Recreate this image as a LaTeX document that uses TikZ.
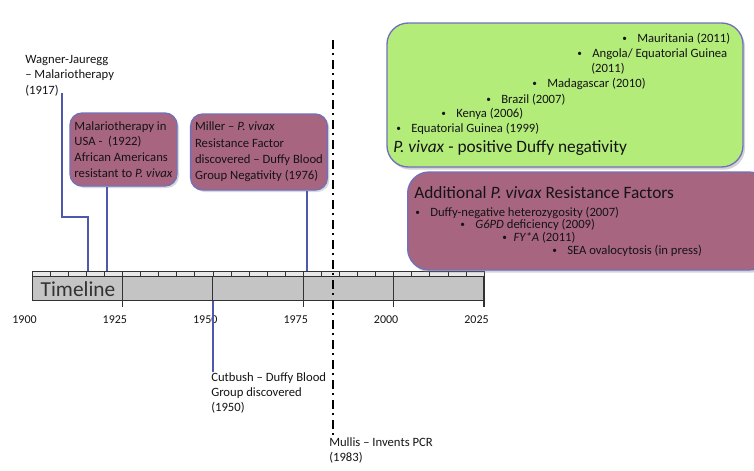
\documentclass[tikz,border=0pt]{standalone}
\usepackage{fontspec}
\setmainfont{Carlito}
\usetikzlibrary{shadows}
\tikzset{>=latex}
\definecolor{boxpink}{RGB}{168,101,128}
\definecolor{boxgreen}{RGB}{180,236,122}
\definecolor{boxline}{RGB}{112,112,188}
\definecolor{bargray}{RGB}{196,196,196}
\definecolor{stripgray}{RGB}{232,232,232}
\definecolor{barline}{RGB}{50,50,50}
\definecolor{linkblue}{RGB}{78,88,172}
\definecolor{textdark}{RGB}{20,20,20}
\newcommand{\smallbullet}{\raisebox{0.4pt}{\fontsize{7}{7}\selectfont\textbullet}}
\newcommand{\bulletitem}[1]{\makebox[11.25pt][l]{\smallbullet}#1}
\tikzset{
  eventbox/.style={draw=boxline, line width=1pt, fill=boxpink, rounded corners=9pt,
    align=left, font=\fontsize{9.5}{11.8}\selectfont, text=textdark,
    drop shadow={shadow xshift=1.5pt, shadow yshift=-1.5pt, opacity=0.3}},
  bigbox/.style={draw=boxline, line width=1pt, rounded corners=16pt,
    drop shadow={shadow xshift=1.5pt, shadow yshift=-2pt, opacity=0.35}},
  listitem/.style={anchor=base west, inner sep=0pt, text=textdark,
    font=\fontsize{9.5}{11.4}\selectfont},
  headitem/.style={anchor=base west, inner sep=0pt, text=textdark,
    font=\fontsize{13}{15}\selectfont},
  plaintext/.style={anchor=north west, inner sep=0pt, align=left, text=textdark,
    font=\fontsize{9.5}{11.6}\selectfont},
  yearlabel/.style={inner sep=0pt, text=textdark, font=\fontsize{9}{10}\selectfont},
  link/.style={linkblue, line width=1.3pt},
}
\begin{document}
\begin{tikzpicture}[x=0.75pt,y=-0.75pt]
	\useasboundingbox (0,0) rectangle (754,471);
	\clip (0,0) rectangle (754,471);

	% timeline bar
	\draw[barline, fill=stripgray] (32,271) rectangle (484,276);
	\draw[barline, fill=bargray] (32,276) rectangle (484,300.7);
	\foreach \i in {1,...,24} {
	     \draw[barline] (32+\i*18.08,271) -- (32+\i*18.08,276);
	}
	\foreach \i in {1,...,5} {
	     \draw[barline, line width=0.8pt] (32+\i*90.4,276) -- (32+\i*90.4,307);
	}
	\foreach \yr [count=\i from 0] in {1900,1925,...,2025} {
	     \node[yearlabel] (y\yr) at (24.5+\i*90.4,320) {\yr};
	}
	\node[text=barline, inner sep=0pt, font=\fontsize{16}{16}\selectfont] (timeline) at (78,289) {Timeline};

	\coordinate (t1917) at (88,271);
	\coordinate (t1922) at (107,271);
	\coordinate (t1950) at (213,300.7);
	\coordinate (t1976) at (307,271);
	\coordinate (pcrtop) at (333,40);
	% end of axis

	% events above and below
	\node[plaintext] (wagner) at (25,55) {Wagner-Jauregg\\ -- Malariotherapy\\ (1917)};
	\coordinate (wagnerend) at (62,93);
	\node[eventbox, minimum width=80.25pt, minimum height=54.75pt] (usa) at (123.5,149.5)
	     {Malariotherapy in\\ USA -~ (1922)\\ African Americans\\ resistant to \textit{P. vivax}};
	\node[eventbox, minimum width=100.5pt, minimum height=57pt, font=\fontsize{9.5}{12.2}\selectfont] (miller) at (259,152)
	     {Miller -- \textit{P. vivax}\\ Resistance Factor\\ discovered -- Duffy Blood\\ Group Negativity (1976)};
	\node[plaintext] (cutbush) at (211,372) {Cutbush -- Duffy Blood\\ Group discovered\\ (1950)};
	\node[plaintext] (mullis) at (329,437) {Mullis -- Invents PCR\\ (1983)};

	\draw[link] (t1917) -- ++(0,-54) -| (wagnerend);
	\draw[link] (t1922) -- (t1922 |- usa.south);
	\draw[link] (t1976) -- (t1976 |- miller.south);
	\draw[link] (t1950) -- (t1950 |- cutbush.north);
	\draw[line width=2.2pt, dash pattern=on 6.75pt off 3pt on 1.5pt off 3.75pt] (pcrtop) -- (pcrtop |- mullis.north);

	% Duffy negativity box
	\node[bigbox, fill=boxgreen, minimum width=267pt, minimum height=108pt] (duffy) at (565,95) {};
	\node[listitem] (d1) at (622,42) {\bulletitem{Mauritania (2011)}};
	\node[listitem] (d2) at (577,57) {\bulletitem{Angola/ Equatorial Guinea}};
	\node[listitem] (d2b) at (591,72) {(2011)};
	\node[listitem] (d3) at (532,87) {\bulletitem{Madagascar (2010)}};
	\node[listitem] (d4) at (486,103) {\bulletitem{Brazil (2007)}};
	\node[listitem] (d5) at (441,117) {\bulletitem{Kenya (2006)}};
	\node[listitem] (d6) at (396,132) {\bulletitem{Equatorial Guinea (1999)}};
	\node[headitem] (dhead) at (393,152.5) {\textit{P. vivax} - positive Duffy negativity};

	% resistance factors box
	\node[bigbox, fill=boxpink, minimum width=272pt, minimum height=73.5pt] (factors) at (589,221) {};
	\node[headitem] (fhead) at (414,198.5) {Additional \textit{P. vivax} Resistance Factors};
	\node[listitem] (f1) at (415,216) {\bulletitem{Duffy-negative heterozygosity (2007)}};
	\node[listitem] (f2) at (460,228) {\bulletitem{\textit{G6PD} deficiency (2009)}};
	\node[listitem] (f3) at (502,241) {\makebox[8.5pt][l]{\smallbullet}\textit{FY*A} (2011)};
	\node[listitem] (f4) at (552,254) {\bulletitem{SEA ovalocytosis (in press)}};
\end{tikzpicture}
\end{document}
